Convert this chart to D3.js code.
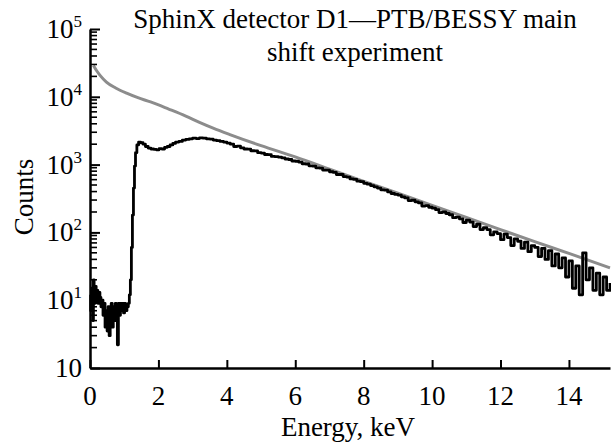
<!DOCTYPE html>
<html>
<head>
<meta charset="utf-8">
<script src="https://cdn.jsdelivr.net/npm/d3@7"></script>
<style>
  body { margin: 0; background: #fff; }
  svg { display: block; font-family: 'Liberation Serif', 'DejaVu Serif', serif; }
</style>
</head>
<body>
<svg width="611" height="445"></svg>
<script>
// axis ticks
const xTicks = [0, 2, 4, 6, 8, 10, 12, 14];
const yDecades = [1, 10, 100, 1000, 10000, 100000];
const yExponents = ['', '1', '2', '3', '4', '5'];

// model curve (grey), [keV, counts]
const modelSpectrum = [
  [0.1, 29000], [0.2, 24000], [0.3, 20500], [0.48, 16500], [0.75, 13500],
  [1.07, 11300], [1.4, 9700], [1.77, 8400], [2.3, 6600], [2.8, 5200],
  [3.2, 4200], [3.6, 3450], [4.11, 2750], [5, 1900], [6, 1300], [7, 860],
  [7.9, 590], [9, 380], [10, 250], [11, 166], [12, 110], [13, 73],
  [14, 49], [15.2, 30],
];

// measured spectrum (black), [keV, counts]
const measured = [
  [0.0, 12], [0.02, 7], [0.05, 15], [0.08, 5], [0.1, 20], [0.12, 9], [0.15, 16],
  [0.18, 10], [0.2, 14], [0.23, 9], [0.26, 13], [0.29, 11], [0.32, 8],
  [0.35, 10], [0.38, 6], [0.41, 9], [0.44, 4], [0.47, 7], [0.5, 3.5],
  [0.53, 8], [0.56, 3], [0.59, 6], [0.62, 9], [0.65, 4], [0.68, 8], [0.71, 5],
  [0.74, 9], [0.77, 6], [0.8, 2.2], [0.83, 9], [0.86, 6], [0.89, 9],
  [0.92, 7], [0.95, 9], [0.98, 6.5], [1.01, 9], [1.04, 7], [1.08, 8],
  [1.12, 9], [1.15, 12], [1.18, 20], [1.21, 60], [1.24, 180], [1.27, 450],
  [1.3, 950], [1.33, 1500], [1.37, 1950], [1.42, 2150], [1.48, 2100],
  [1.55, 2000], [1.62, 1850], [1.7, 1750], [1.78, 1700], [1.86, 1680],
  [1.94, 1650], [2.02, 1720], [2.1, 1700], [2.18, 1800], [2.26, 1850],
  [2.34, 1950], [2.42, 2050], [2.5, 2150], [2.6, 2200], [2.7, 2300],
  [2.8, 2350], [2.9, 2400], [3.0, 2450], [3.1, 2420], [3.2, 2480],
  [3.3, 2450], [3.4, 2400], [3.5, 2380], [3.6, 2300], [3.7, 2250],
  [3.8, 2200], [3.9, 2150], [4.0, 2080], [4.1, 2000],
  [4.2, 1850], [4.3, 1870], [4.4, 1760], [4.5, 1700], [4.6, 1690],
  [4.7, 1600], [4.8, 1590], [4.9, 1500], [5.0, 1480], [5.1, 1410],
  [5.2, 1400], [5.3, 1320], [5.4, 1310], [5.5, 1290], [5.6, 1260],
  [5.7, 1210], [5.8, 1190], [5.9, 1130], [6.0, 1120], [6.1, 1090],
  [6.2, 1030], [6.3, 1020], [6.4, 960], [6.5, 950], [6.6, 895], [6.7, 890],
  [6.8, 830], [6.9, 830], [7.0, 785], [7.1, 770], [7.2, 715], [7.3, 715],
  [7.4, 665], [7.5, 655], [7.6, 615], [7.7, 605], [7.8, 570], [7.9, 560],
  [8.0, 530], [8.1, 515], [8.2, 490], [8.3, 470], [8.4, 450], [8.5, 425],
  [8.6, 420], [8.7, 395], [8.8, 375], [8.9, 365], [9.0, 355], [9.1, 335],
  [9.2, 322], [9.3, 295], [9.4, 298], [9.5, 282], [9.6, 272], [9.7, 245],
  [9.8, 248], [9.9, 235], [10.0, 228], [10.1, 216], [10.2, 196], [10.3, 200],
  [10.4, 190], [10.5, 182], [10.6, 165], [10.7, 168], [10.8, 158],
  [10.9, 140], [11.0, 152], [11.1, 142], [11.2, 122], [11.3, 132],
  [11.4, 110], [11.5, 118], [11.6, 110], [11.7, 92], [11.8, 102], [11.9, 96],
  [12.0, 78], [12.1, 94], [12.2, 84], [12.3, 64], [12.4, 80], [12.5, 74],
  [12.6, 58], [12.7, 72], [12.8, 52], [12.9, 64], [13.0, 60], [13.1, 44],
  [13.2, 58], [13.3, 40], [13.4, 54], [13.5, 32], [13.6, 48], [13.7, 30],
  [13.8, 42], [13.9, 22], [14.0, 38], [14.1, 15], [14.2, 32], [14.3, 12],
  [14.4, 50], [14.5, 20], [14.6, 30], [14.7, 14], [14.8, 25], [14.9, 12],
  [15.0, 22], [15.1, 14], [15.2, 18],
];

const svg = d3.select('svg');
const x = d3.scaleLinear().domain([0, 15.2]).range([90, 610]);
const y = d3.scaleLog().domain([1, 1e5]).range([368, 29]);

svg.append('path')
  .datum(modelSpectrum)
  .attr('d', d3.line().x(d => x(d[0])).y(d => y(d[1])).curve(d3.curveMonotoneX))
  .attr('fill', 'none')
  .attr('stroke', '#8c8c8c')
  .attr('stroke-width', 3);

svg.append('path')
  .datum(measured)
  .attr('d', d3.line().x(d => x(d[0])).y(d => y(d[1])).curve(d3.curveStepAfter))
  .attr('fill', 'none')
  .attr('stroke', '#000')
  .attr('stroke-width', 2.8)
  .attr('stroke-linejoin', 'round');

// x axis, ticks pointing inward
const xAxis = svg.append('g')
  .attr('transform', 'translate(0,368)')
  .call(d3.axisBottom(x).tickValues(xTicks).tickSizeInner(-8).tickSizeOuter(0).tickFormat(''));
xAxis.select('.domain').attr('stroke-width', 2.5);
xAxis.selectAll('.tick line').attr('stroke-width', 2);

// y axis with minor ticks
const minor = [];
yDecades.slice(0, -1).forEach(d => {
  for (let k = 2; k <= 9; k++) minor.push(d * k);
});
const yAxis = svg.append('g').attr('transform', 'translate(90,0)');
yAxis.call(d3.axisLeft(y).tickValues(yDecades).tickSizeInner(-10).tickSizeOuter(0).tickFormat(''));
yAxis.select('.domain').attr('stroke-width', 2.5);
yAxis.selectAll('.tick line').attr('stroke-width', 2);
yAxis.selectAll('.minor')
  .data(minor)
  .join('line')
  .attr('x1', 0).attr('x2', 7)
  .attr('y1', d => y(d)).attr('y2', d => y(d))
  .attr('stroke', '#000')
  .attr('stroke-width', 1.6);

// tick labels
svg.selectAll('.xlab')
  .data(xTicks)
  .join('text')
  .attr('x', d => x(d))
  .attr('y', 405)
  .attr('text-anchor', 'middle')
  .attr('font-size', 27)
  .text(d => d);

const ylab = svg.selectAll('.ylab')
  .data(yDecades)
  .join('text')
  .attr('x', 82)
  .attr('y', d => y(d) + 9)
  .attr('text-anchor', 'end')
  .attr('font-size', 27);
ylab.append('tspan').text('10');
ylab.append('tspan')
  .attr('dy', -11)
  .attr('font-size', 17)
  .text((d, i) => yExponents[i]);

// titles
svg.append('text')
  .attr('x', 355).attr('y', 28)
  .attr('text-anchor', 'middle')
  .attr('font-size', 27)
  .text('SphinX detector D1—PTB/BESSY main');
svg.append('text')
  .attr('x', 355).attr('y', 61)
  .attr('text-anchor', 'middle')
  .attr('font-size', 27)
  .text('shift experiment');

svg.append('text')
  .attr('x', 348).attr('y', 436)
  .attr('text-anchor', 'middle')
  .attr('font-size', 27)
  .text('Energy, keV');

svg.append('text')
  .attr('transform', 'translate(33,197) rotate(-90)')
  .attr('text-anchor', 'middle')
  .attr('font-size', 27)
  .text('Counts');
</script>
</body>
</html>
